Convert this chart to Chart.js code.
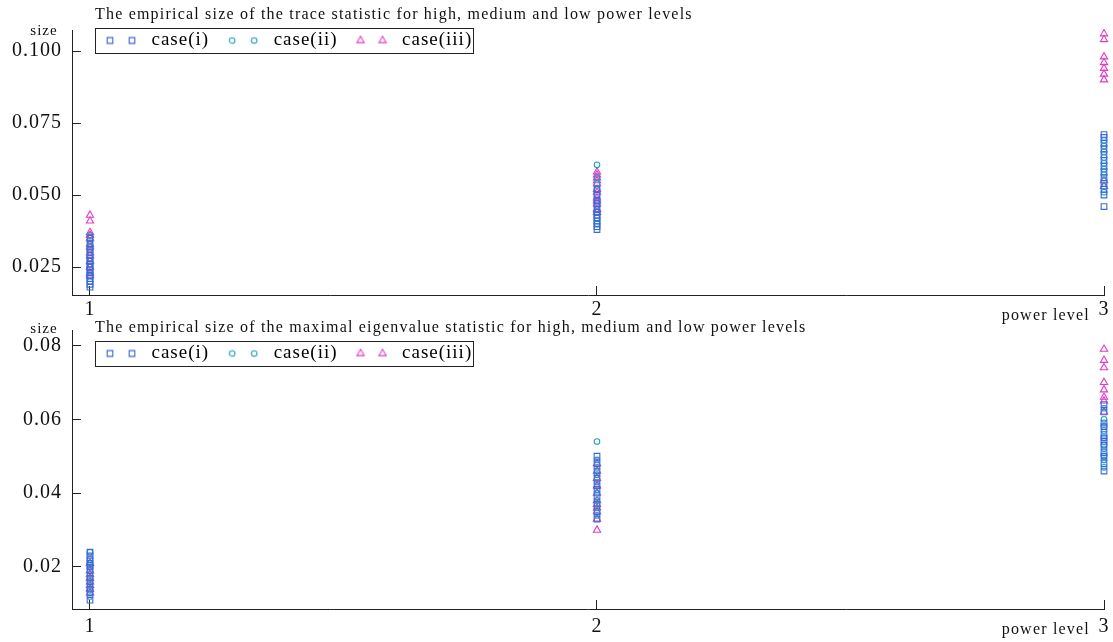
<!DOCTYPE html>
<html>
<head>
<meta charset="utf-8">
<script src="https://cdn.jsdelivr.net/npm/chart.js@4.4.1/dist/chart.umd.min.js"></script>
<style>
body { margin: 0; background: #fff; }
#c1 { position: absolute; left: 0; top: 0; }
#c2 { position: absolute; left: 0; top: 318px; }
</style>
</head>
<body>
<canvas id="c2" width="1113" height="324"></canvas>
<canvas id="c1" width="1113" height="330"></canvas>
<script>
var powerLevels = [1, 2, 3];
var caseNames = ["case(i)", "case(ii)", "case(iii)"];

// trace statistic, empirical size per power level
var traceL1_i = [0.018, 0.019, 0.020, 0.021, 0.022, 0.023, 0.024, 0.025, 0.026, 0.027, 0.028, 0.030, 0.031, 0.033, 0.035];
var traceL1_ii = [0.020, 0.022, 0.023, 0.025, 0.026, 0.028, 0.029, 0.031, 0.032, 0.034, 0.036];
var traceL1_iii = [0.022, 0.023, 0.025, 0.027, 0.029, 0.030, 0.032, 0.033, 0.035, 0.036, 0.037, 0.041, 0.043];
var traceL2_i = [0.038, 0.039, 0.040, 0.041, 0.042, 0.043, 0.044, 0.045, 0.047, 0.048, 0.050, 0.052];
var traceL2_ii = [0.040, 0.042, 0.044, 0.046, 0.048, 0.050, 0.052, 0.054, 0.056, 0.0605];
var traceL2_iii = [0.044, 0.045, 0.047, 0.048, 0.049, 0.051, 0.052, 0.054, 0.055, 0.056, 0.057, 0.058];
var traceL3_i = [0.046, 0.050, 0.052, 0.054, 0.056, 0.058, 0.060, 0.062, 0.064, 0.066, 0.068, 0.070, 0.071];
var traceL3_ii = [0.051, 0.053, 0.055, 0.057, 0.059, 0.061, 0.063, 0.065, 0.067, 0.069];
var traceL3_iii = [0.053, 0.055, 0.090, 0.092, 0.094, 0.096, 0.098, 0.104, 0.106];

// maximal eigenvalue statistic
var maxL1_i = [0.011, 0.013, 0.014, 0.016, 0.017, 0.019, 0.020, 0.021, 0.022, 0.023, 0.024];
var maxL1_ii = [0.012, 0.014, 0.015, 0.017, 0.018, 0.020, 0.021, 0.022, 0.024];
var maxL1_iii = [0.013, 0.014, 0.015, 0.016, 0.017, 0.018, 0.019, 0.021];
var maxL2_i = [0.033, 0.035, 0.037, 0.039, 0.041, 0.042, 0.044, 0.046, 0.048, 0.050];
var maxL2_ii = [0.034, 0.036, 0.038, 0.040, 0.043, 0.045, 0.047, 0.049, 0.054];
var maxL2_iii = [0.030, 0.033, 0.035, 0.036, 0.037, 0.038, 0.040, 0.042, 0.044, 0.046, 0.048];
var maxL3_i = [0.046, 0.048, 0.050, 0.051, 0.053, 0.054, 0.055, 0.056, 0.058, 0.059, 0.062, 0.064];
var maxL3_ii = [0.047, 0.049, 0.050, 0.052, 0.053, 0.055, 0.057, 0.058, 0.060, 0.063];
var maxL3_iii = [0.062, 0.065, 0.066, 0.068, 0.070, 0.074, 0.076, 0.079];

var traceTicks = [0.025, 0.050, 0.075, 0.100];
var maxTicks = [0.02, 0.04, 0.06, 0.08];

Chart.defaults.font.family = "'Liberation Serif', 'Times New Roman', serif";
Chart.defaults.color = '#111';

var caseColors = ['#3a6ad6', '#23a0b8', '#e03cc4'];
var caseStyles = ['rect', 'circle', 'triangle'];
var caseRadius = [4, 2.8, 4.2];

function toPoints(level, arr) {
	return arr.map(function(v){ return {x: level, y: v}; });
}

function markerImage(k) {
	var c = document.createElement('canvas');
	c.width = 40; c.height = 20;
	var g = c.getContext('2d');
	g.strokeStyle = caseColors[k];
	g.lineWidth = 1.1;
	[8, 30].forEach(function(cx){
		var cy = 10, r = caseRadius[k];
		g.beginPath();
		if (k == 0) {
			var s = r * Math.SQRT1_2;
			g.rect(cx - s, cy - s, 2 * s, 2 * s);
		} else if (k == 1) {
			g.arc(cx, cy, r, 0, Math.PI * 2);
		} else {
			g.moveTo(cx, cy - r);
			g.lineTo(cx + r * 0.866, cy + r * 0.5);
			g.lineTo(cx - r * 0.866, cy + r * 0.5);
			g.closePath();
		}
		g.stroke();
	});
	return c;
}
var legendImages = [markerImage(0), markerImage(1), markerImage(2)];

var decor = {
	id: 'decor',
	beforeUpdate: function(chart){ chart.ctx.letterSpacing = '1px'; },
	beforeDraw: function(chart){ chart.ctx.letterSpacing = '1px'; },
	afterLayout: function(chart, args, o){
		// legend sits inside the plot area, next to the title
		var lg = chart.legend;
		var dx = 87 - lg.left, dy = (o.rowTop - 15) - lg.top;
		lg.left += dx; lg.right += dx;
		lg.top += dy; lg.bottom = lg.top + 50; lg.height = 50;
	},
	afterDraw: function(chart, args, o){
		var ctx = chart.ctx, ca = chart.chartArea;
		ctx.save();
		ctx.letterSpacing = '1.2px';
		ctx.fillStyle = '#111';
		ctx.textBaseline = 'middle';
		ctx.font = "16px 'Liberation Serif'";
		ctx.textAlign = 'left';
		ctx.fillText(o.title, 95, o.titleY);
		ctx.textAlign = 'right';
		ctx.fillText('power level', chart.scales.x.getPixelForValue(3) - 14, ca.bottom + 21);
		ctx.letterSpacing = '1px';
		ctx.font = "15px 'Liberation Serif'";
		ctx.textAlign = 'center';
		ctx.fillText('size', 44, o.sizeY);
		// legend frame
		var hb = chart.legend.legendHitBoxes;
		if (hb && hb.length) {
			var l = hb[0].left - 7, r = hb[hb.length - 1].left + hb[hb.length - 1].width + 1;
			var t = chart.legend.top + 12;
			ctx.strokeStyle = '#222';
			ctx.lineWidth = 1;
			ctx.strokeRect(Math.round(l) + 0.5, Math.round(t) + 0.5, Math.round(r - l), 25);
		}
		ctx.restore();
	}
};

function makeDatasets(levels) {
	return [0, 1, 2].map(function(k){
		var data = [];
		levels.forEach(function(arrs, li){ data = data.concat(toPoints(powerLevels[li], arrs[k])); });
		return {
			label: caseNames[k],
			data: data,
			pointStyle: caseStyles[k],
			pointRadius: caseRadius[k],
			pointHoverRadius: caseRadius[k],
			borderColor: caseColors[k],
			backgroundColor: 'rgba(0,0,0,0)',
			pointBorderWidth: 1.1,
			clip: false
		};
	});
}

function makeChart(id, datasets, cfg) {
	return new Chart(document.getElementById(id), {
		type: 'scatter',
		data: { datasets: datasets },
		plugins: [decor],
		options: {
			responsive: false,
			animation: false,
			layout: { padding: { top: cfg.top - 1, right: 9, left: 0, bottom: 0 } },
			plugins: {
				tooltip: { enabled: false },
				decor: { title: cfg.title, titleY: cfg.titleY, sizeY: cfg.sizeY, rowTop: cfg.rowTop },
				legend: {
					position: 'top',
					align: 'start',
					maxHeight: 1,
					labels: {
						usePointStyle: true,
						pointStyleWidth: 40,
						padding: 15,
						font: { size: 19 },
						color: '#111',
						generateLabels: function(chart){
							return chart.data.datasets.map(function(ds, i){
								return { text: ds.label, pointStyle: legendImages[i], fillStyle: 'rgba(0,0,0,0)', strokeStyle: 'rgba(0,0,0,0)', lineWidth: 0, hidden: false, datasetIndex: i };
							});
						}
					}
				}
			},
			scales: {
				x: {
					type: 'linear',
					min: 0.9645,
					max: 3,
					afterBuildTicks: function(s){ s.ticks = powerLevels.map(function(v){ return {value: v}; }); },
					afterFit: function(s){ s.height = cfg.xHeight; s.paddingLeft = 0; s.paddingRight = 0; },
					ticks: { font: { size: 20 }, padding: cfg.xPad, maxRotation: 0, color: '#111' },
					grid: { drawOnChartArea: false, drawTicks: true, tickLength: -9, color: '#222' },
					border: { display: true, color: '#222', width: 1 }
				},
				y: {
					min: cfg.yMin,
					max: cfg.yMax,
					afterBuildTicks: function(s){ s.ticks = cfg.yTicks.map(function(v){ return {value: v}; }); },
					afterFit: function(s){ s.width = 72; s.paddingTop = 0; s.paddingBottom = 0; },
					ticks: {
						font: { size: 20 },
						padding: 19,
						color: '#111',
						callback: function(v){ return v.toFixed(cfg.digits); }
					},
					grid: { drawOnChartArea: false, drawTicks: true, tickLength: -9, color: '#222' },
					border: { display: true, color: '#222', width: 1 }
				}
			}
		}
	});
}

makeChart('c1', makeDatasets([
	[traceL1_i, traceL1_ii, traceL1_iii],
	[traceL2_i, traceL2_ii, traceL2_iii],
	[traceL3_i, traceL3_ii, traceL3_iii]
]), {
	title: 'The empirical size of the trace statistic for high, medium and low power levels',
	titleY: 15, sizeY: 31, top: 30, xHeight: 35, xPad: 12, rowTop: 31,
	yMin: 0.01528, yMax: 0.1073, yTicks: traceTicks, digits: 3
});

makeChart('c2', makeDatasets([
	[maxL1_i, maxL1_ii, maxL1_iii],
	[maxL2_i, maxL2_ii, maxL2_iii],
	[maxL3_i, maxL3_ii, maxL3_iii]
]), {
	title: 'The empirical size of the maximal eigenvalue statistic for high, medium and low power levels',
	titleY: 10, sizeY: 11, top: 12, xHeight: 33, xPad: 15, rowTop: 26,
	yMin: 0.00862, yMax: 0.0842, yTicks: maxTicks, digits: 2
});
</script>
</body>
</html>
